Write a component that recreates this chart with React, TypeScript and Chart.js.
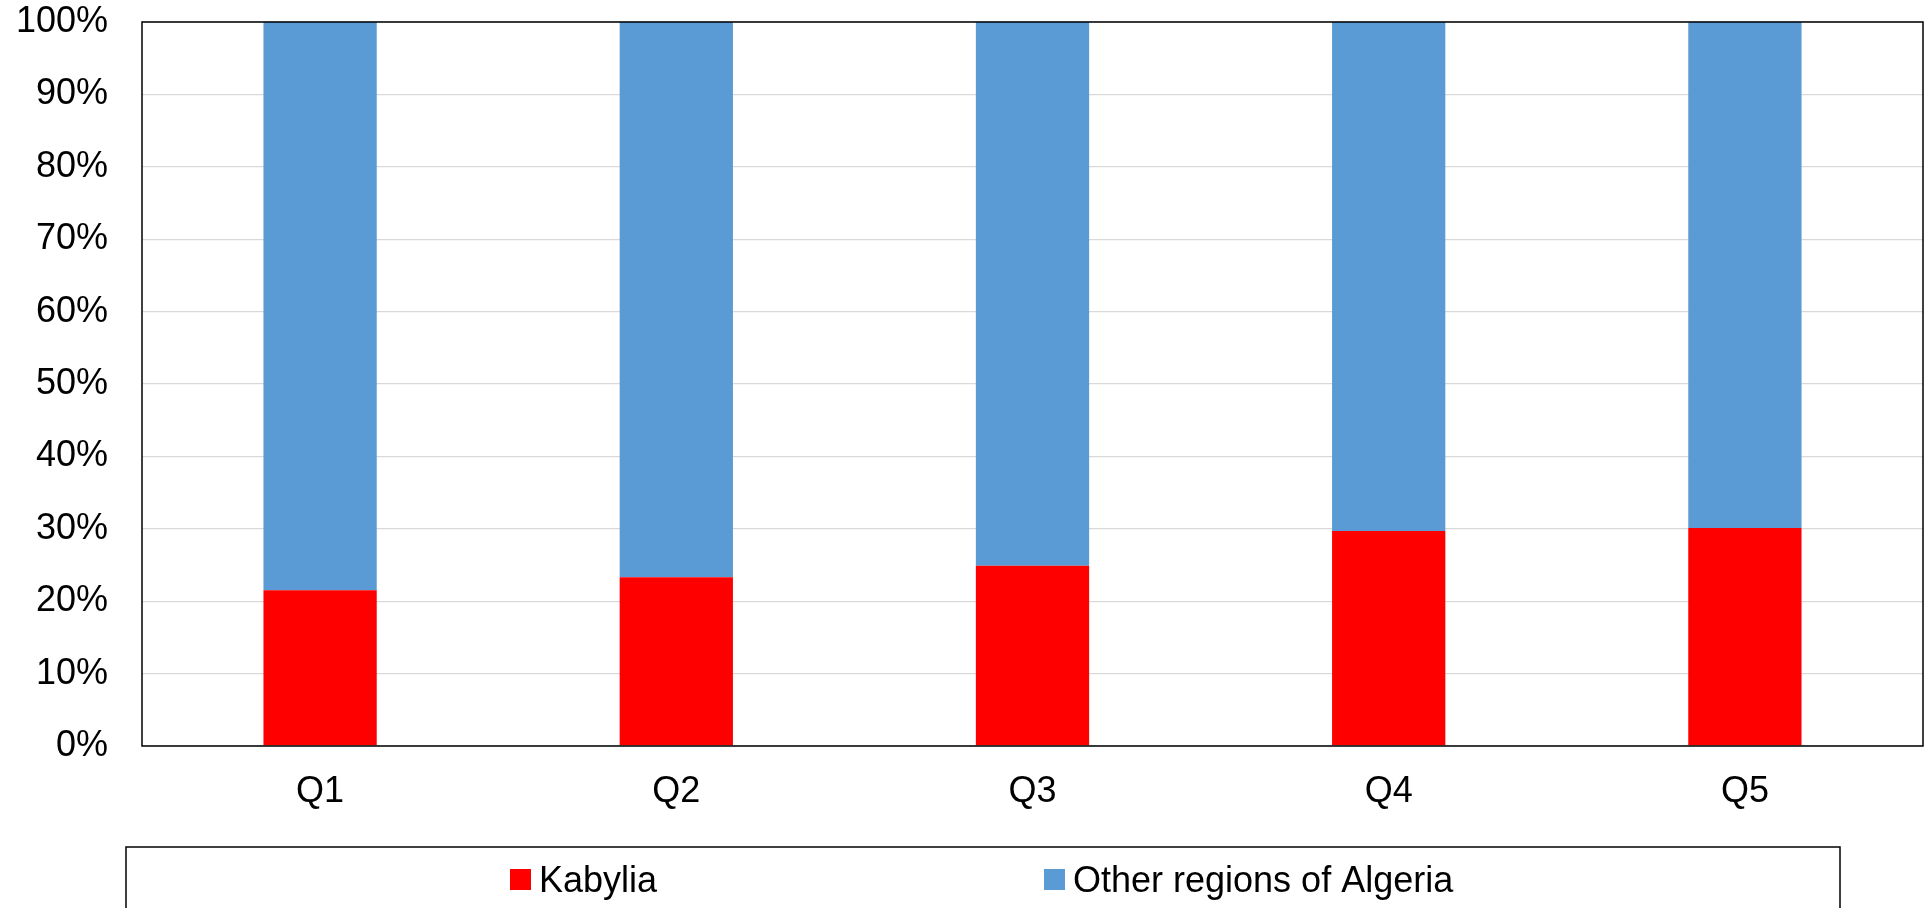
import React, { useEffect, useRef } from "react";
import { Chart, registerables } from "chart.js";

Chart.register(...registerables);

const categories = ["Q1", "Q2", "Q3", "Q4", "Q5"];
const kabylia = [21.5, 23.3, 24.9, 29.7, 30.1];
const otherRegions = [78.5, 76.7, 75.1, 70.3, 69.9];
const seriesLabels = ["Kabylia", "Other regions of Algeria"];
const seriesColors = ["#FF0000", "#5B9BD5"];

const FONT = "'Liberation Sans', Arial, sans-serif";

const frameAndLegend = {
  id: "frameAndLegend",
  afterDatasetsDraw(chart: any) {
    const { ctx, chartArea } = chart;
    ctx.save();
    ctx.strokeStyle = "#000";
    ctx.lineWidth = 1.5;
    ctx.strokeRect(chartArea.left, chartArea.top, chartArea.right - chartArea.left, chartArea.bottom - chartArea.top);
    ctx.strokeRect(126, 847, 1840 - 126, 120);
    const itemsX = [510, 1044];
    ctx.font = `36px ${FONT}`;
    ctx.textBaseline = "alphabetic";
    ctx.textAlign = "left";
    chart.data.datasets.forEach((ds: any, i: number) => {
      ctx.fillStyle = ds.backgroundColor;
      ctx.fillRect(itemsX[i], 869, 21, 21);
      ctx.fillStyle = "#000";
      ctx.fillText(ds.label, itemsX[i] + 29, 892);
    });
    ctx.restore();
  },
};

export default function App() {
  const ref = useRef<HTMLCanvasElement>(null);
  useEffect(() => {
    document.body.style.margin = "0";
    const chart = new Chart(ref.current!, {
      type: "bar",
      data: {
        labels: categories,
        datasets: [
          { label: seriesLabels[0], data: kabylia, backgroundColor: seriesColors[0], borderWidth: 0 },
          { label: seriesLabels[1], data: otherRegions, backgroundColor: seriesColors[1], borderWidth: 0 },
        ],
      },
      options: {
        responsive: false,
        animation: false,
        layout: { padding: { left: 0, top: 22, right: 3, bottom: 0 } },
        plugins: { legend: { display: false }, tooltip: { enabled: false } },
        datasets: { bar: { categoryPercentage: 1, barPercentage: 0.318 } },
        scales: {
          x: {
            stacked: true,
            grid: { display: false, drawTicks: false },
            border: { display: false },
            ticks: { color: "#000", font: { family: FONT, size: 36 }, padding: 24, maxRotation: 0 },
            afterFit(scale: any) {
              scale.height = 162;
              scale.paddingLeft = 0;
              scale.paddingRight = 0;
            },
          },
          y: {
            stacked: true,
            min: 0,
            max: 100,
            grid: { color: "#D9D9D9", lineWidth: 1.3, drawTicks: false },
            border: { display: false },
            ticks: {
              stepSize: 10,
              color: "#000",
              font: { family: FONT, size: 36 },
              padding: 34,
              callback: (v: any) => v + "%",
            },
            afterFit(scale: any) {
              scale.width = 142;
              scale.paddingTop = 0;
              scale.paddingBottom = 0;
            },
          },
        },
      },
      plugins: [frameAndLegend],
    });
    return () => chart.destroy();
  }, []);
  return (
    <div style={{ width: 1926, height: 908, background: "#fff" }}>
      <canvas ref={ref} width={1926} height={908} />
    </div>
  );
}
